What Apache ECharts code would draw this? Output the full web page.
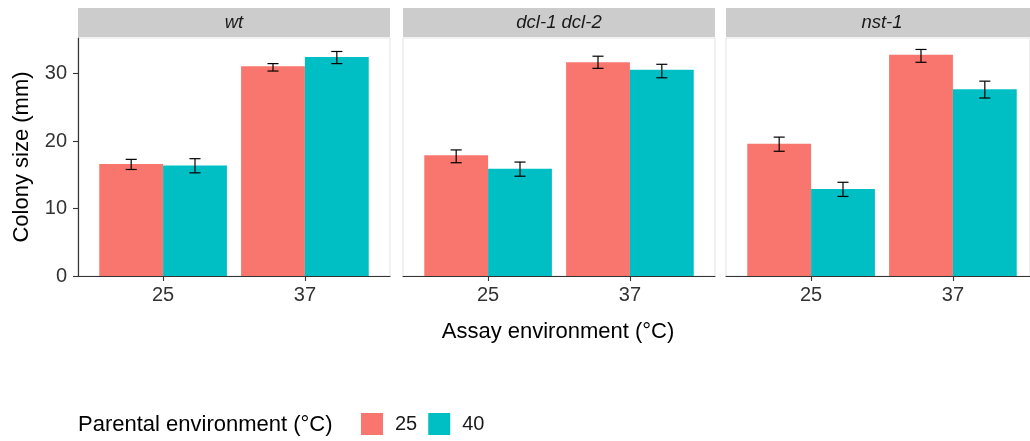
<!DOCTYPE html>
<html>
<head>
<meta charset="utf-8">
<script src="https://cdn.jsdelivr.net/npm/echarts@6/dist/echarts.min.js"></script>
<style>html,body{margin:0;padding:0;background:#fff;}#c{width:1030px;height:441px;}</style>
</head>
<body>
<div id="c"></div>
<script>
// ---- data ----
const panels = ['wt', 'dcl-1 dcl-2', 'nst-1'];
const assayLabels = ['25', '37'];
const parental = ['25', '40'];
// per panel: [assay 25, assay 37]
const mean_p25 = [[16.6, 31.1], [17.9, 31.7], [19.6, 32.8]];
const lo_p25   = [[15.8, 30.4], [16.8, 30.8], [18.5, 31.7]];
const hi_p25   = [[17.3, 31.5], [18.7, 32.6], [20.6, 33.6]];
const mean_p40 = [[16.4, 32.5], [15.9, 30.6], [12.9, 27.7]];
const lo_p40   = [[15.3, 31.5], [14.8, 29.4], [11.8, 26.4]];
const hi_p40   = [[17.4, 33.3], [16.9, 31.4], [13.9, 28.9]];
const yTicks = [0, 10, 20, 30];

// ---- layout / style ----
const FONT = "'Liberation Sans', Arial, sans-serif";
const COLORS = ['#F8766D', '#00BFC4'];
const CANVAS_W = 1030;
const GRID_LEFT = [78, 403, 726];
const PANEL_W = 312, GRID_TOP = 38, GRID_H = 238;
const STRIP_TOP = 8, STRIP_H = 29;
const X_MIN = 0.4, X_MAX = 2.6;
const BAR_W = 0.45, CAP_W = 0.078;
const Y_MAX = 35.3;

const means = [mean_p25, mean_p40];
const los = [lo_p25, lo_p40];
const his = [hi_p25, hi_p40];

function makeRender(off) {
  return function (params, api) {
    const x = api.value(0) + off;
    const m = api.value(1), lo = api.value(2), hi = api.value(3);
    const bw = api.size([BAR_W, 0])[0];
    const capW = api.size([CAP_W, 0])[0];
    const top = api.coord([x - BAR_W / 2, m]);
    const base = api.coord([x - BAR_W / 2, 0]);
    const eLo = api.coord([x, lo]);
    const eHi = api.coord([x, hi]);
    const ls = { stroke: '#000', lineWidth: 1.2 };
    return {
      type: 'group',
      children: [
        { type: 'rect', shape: { x: top[0], y: top[1], width: bw, height: base[1] - top[1] },
          style: { fill: api.visual('color') } },
        { type: 'line', shape: { x1: eLo[0], y1: eLo[1], x2: eHi[0], y2: eHi[1] }, style: ls },
        { type: 'line', shape: { x1: eLo[0] - capW / 2, y1: eLo[1], x2: eLo[0] + capW / 2, y2: eLo[1] }, style: ls },
        { type: 'line', shape: { x1: eHi[0] - capW / 2, y1: eHi[1], x2: eHi[0] + capW / 2, y2: eHi[1] }, style: ls }
      ]
    };
  };
}

const grids = [], xAxes = [], yAxes = [], series = [], graphics = [];
panels.forEach((p, i) => {
  // the last panel runs past the canvas edge in the reference: keep the same scale, cut the visible range
  const visW = Math.min(PANEL_W, CANVAS_W - GRID_LEFT[i]);
  const xMax = X_MIN + (X_MAX - X_MIN) * visW / PANEL_W;
  grids.push({ left: GRID_LEFT[i], top: GRID_TOP, width: visW, height: GRID_H,
    show: true, borderColor: '#e3e3e3', borderWidth: 1, backgroundColor: '#fff', containLabel: false });
  xAxes.push({ type: 'value', gridIndex: i, min: X_MIN, max: xMax,
    axisLine: { show: true, onZero: false, lineStyle: { color: '#333', width: 1.2 } },
    axisTick: { show: true, customValues: [1, 2], length: 5, lineStyle: { color: '#333', width: 1.1 } },
    axisLabel: { show: true, customValues: [1, 2], formatter: v => assayLabels[Math.round(v) - 1],
      fontSize: 20, color: '#333', fontFamily: FONT, margin: 9 },
    splitLine: { show: false } });
  const first = i === 0;
  yAxes.push({ type: 'value', gridIndex: i, min: 0, max: Y_MAX, interval: 10,
    axisLine: { show: first, lineStyle: { color: '#333', width: 1.2 } },
    axisTick: { show: first, customValues: yTicks, length: 5, lineStyle: { color: '#333', width: 1.1 } },
    axisLabel: { show: first, customValues: yTicks, fontSize: 20, color: '#333', fontFamily: FONT, margin: 11 },
    splitLine: { show: false } });
  parental.forEach((pe, s) => {
    const off = s === 0 ? -BAR_W / 2 : BAR_W / 2;
    series.push({
      type: 'custom', name: pe, xAxisIndex: i, yAxisIndex: i,
      itemStyle: { color: COLORS[s] },
      renderItem: makeRender(off),
      encode: { x: 0, y: 1 },
      data: assayLabels.map((a, k) => [k + 1, means[s][i][k], los[s][i][k], his[s][i][k]])
    });
  });
  graphics.push({ type: 'rect', left: GRID_LEFT[i], top: STRIP_TOP,
    shape: { width: PANEL_W, height: STRIP_H }, style: { fill: '#cccccc' } });
  graphics.push({ type: 'text', x: GRID_LEFT[i] + PANEL_W / 2, y: STRIP_TOP + STRIP_H / 2,
    style: { text: p, fontSize: 18.5, fontStyle: 'italic', fontFamily: FONT, fill: '#1a1a1a',
      textAlign: 'center', textVerticalAlign: 'middle' } });
});

graphics.push({ type: 'text', x: (GRID_LEFT[0] + GRID_LEFT[2] + PANEL_W) / 2, y: 332,
  style: { text: 'Assay environment (°C)', fontSize: 22, fontFamily: FONT, fill: '#000',
    textAlign: 'center', textVerticalAlign: 'middle' } });
graphics.push({ type: 'text', x: 22, y: GRID_TOP + GRID_H / 2, rotation: Math.PI / 2,
  style: { text: 'Colony size (mm)', fontSize: 22, fontFamily: FONT, fill: '#000',
    textAlign: 'center', textVerticalAlign: 'middle' } });
graphics.push({ type: 'text', x: 78, y: 425,
  style: { text: 'Parental environment (°C)', fontSize: 22, fontFamily: FONT, fill: '#000',
    textAlign: 'left', textVerticalAlign: 'middle' } });

const chart = echarts.init(document.getElementById('c'), null, { renderer: 'canvas' });
chart.setOption({
  animation: false,
  backgroundColor: '#fff',
  grid: grids,
  xAxis: xAxes,
  yAxis: yAxes,
  series: series,
  legend: {
    data: parental.map((pe, s) => ({ name: pe, itemStyle: { color: COLORS[s] } })),
    left: 361, top: 413, orient: 'horizontal', padding: 0,
    icon: 'rect', itemWidth: 22, itemHeight: 22, itemGap: 11,
    textStyle: { fontSize: 20, color: '#1a1a1a', fontFamily: FONT, padding: [0, 0, 0, 7] },
    selectedMode: false
  },
  graphic: graphics
});
</script>
</body>
</html>
